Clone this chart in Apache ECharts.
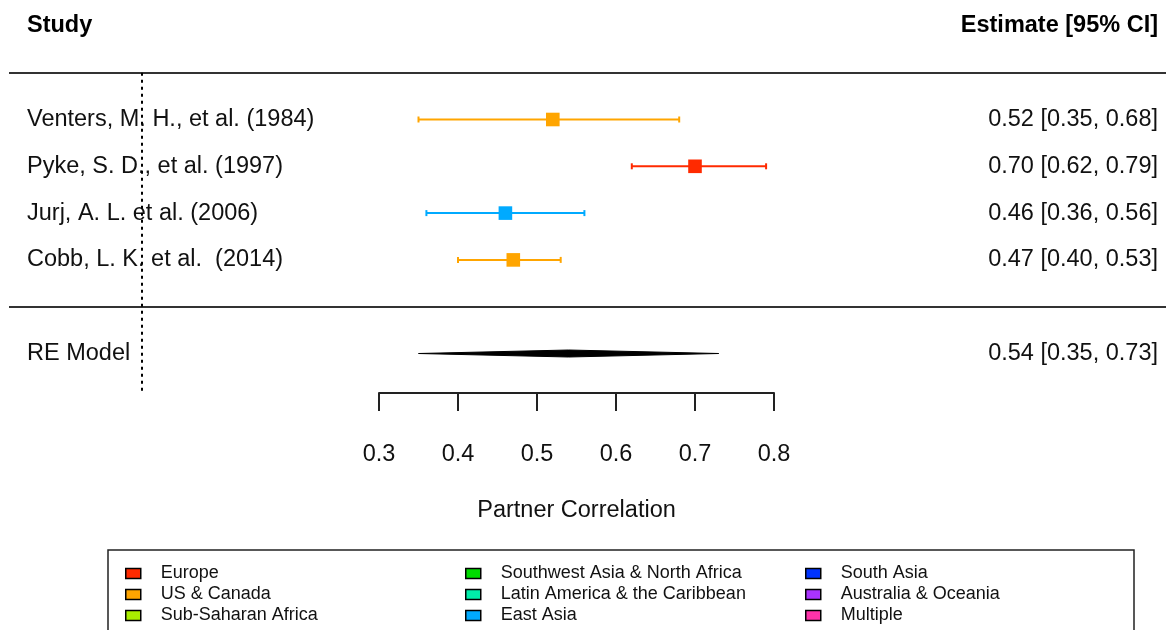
<!DOCTYPE html>
<html>
<head>
<meta charset="utf-8">
<title>Partner Correlation forest plot</title>
<script src="https://cdn.jsdelivr.net/npm/echarts@6/dist/echarts.min.js"></script>
<style>
  html, body { margin: 0; padding: 0; background: #fff; }
  #chart { width: 1166px; height: 630px; }
</style>
</head>
<body>
<div id="chart"></div>
<script>
// Individual studies (top to bottom)
const studies = [
  'Venters, M. H., et al. (1984)',
  'Pyke, S. D., et al. (1997)',
  'Jurj, A. L. et al. (2006)',
  'Cobb, L. K. et al.  (2014)'
];
const estimates = [0.52, 0.70, 0.46, 0.47];
const lowerCI = [0.35, 0.62, 0.36, 0.40];
const upperCI = [0.68, 0.79, 0.56, 0.53];
const studyRegions = ['US & Canada', 'Europe', 'East Asia', 'US & Canada'];

// Random-effects summary
const modelLabel = 'RE Model';
const modelEstimate = [0.54];
const modelLower = [0.35];
const modelUpper = [0.73];

// Region palette (legend order: filled column by column)
const regions = [
  'Europe', 'US & Canada', 'Sub-Saharan Africa',
  'Southwest Asia & North Africa', 'Latin America & the Caribbean', 'East Asia',
  'South Asia', 'Australia & Oceania', 'Multiple'
];
const regionColors = [
  '#FF2A00', '#FFA500', '#AAEE00',
  '#00DD00', '#00EEAA', '#00AAFF',
  '#0033FF', '#AA33FF', '#FF33AA'
];

// Bottom axis ticks
const axisTicks = [0.3, 0.4, 0.5, 0.6, 0.7, 0.8];
const axisTitle = 'Partner Correlation';
const headerLeft = 'Study';
const headerRight = 'Estimate [95% CI]';

// Row layout: studies occupy rows n+2 .. 3, separator at 2, model at 1
const n = studies.length;
const rowOf = i => n + 2 - i;
const modelRow = 1;
const headerRow = n + 4;
const topRuleRow = n + 3;
const midRuleRow = 2;

const fmt = v => v.toFixed(2);
const leftLabels = {};
const rightLabels = {};
leftLabels[headerRow] = '{h|' + headerLeft + '}';
rightLabels[headerRow] = '{h|' + headerRight + '}';
studies.forEach((s, i) => {
  leftLabels[rowOf(i)] = s;
  rightLabels[rowOf(i)] = fmt(estimates[i]) + ' [' + fmt(lowerCI[i]) + ', ' + fmt(upperCI[i]) + ']';
});
leftLabels[modelRow] = modelLabel;
rightLabels[modelRow] = fmt(modelEstimate[0]) + ' [' + fmt(modelLower[0]) + ', ' + fmt(modelUpper[0]) + ']';

// Pixel geometry of the plotting frame
const W = 1166;
const zeroPx = 142;       // where x = 0 sits
const unitPx = 790;       // pixels per 1.0 on the x scale
const gridLeft = 9;
const rowPx = 46.8;
const rowOnePx = 353.5;
const gridTop = rowOnePx - (headerRow - 1) * rowPx;
const gridHeight = headerRow * rowPx;

const textFont = "'Liberation Sans', Arial, Helvetica, sans-serif";
const fs = 23.5;

function renderCI(params, api) {
  const y = api.value(3);
  const pLo = api.coord([api.value(0), y]);
  const pEst = api.coord([api.value(1), y]);
  const pHi = api.coord([api.value(2), y]);
  const color = api.visual('color');
  const cap = 3;
  const half = 6.8;
  const stroke = { stroke: color, lineWidth: 2 };
  return {
    type: 'group',
    children: [
      { type: 'line', shape: { x1: pLo[0], y1: pLo[1], x2: pHi[0], y2: pHi[1] }, style: stroke },
      { type: 'line', shape: { x1: pLo[0], y1: pLo[1] - cap, x2: pLo[0], y2: pLo[1] + cap }, style: stroke },
      { type: 'line', shape: { x1: pHi[0], y1: pHi[1] - cap, x2: pHi[0], y2: pHi[1] + cap }, style: stroke },
      { type: 'rect', shape: { x: pEst[0] - half, y: pEst[1] - half, width: half * 2, height: half * 2 }, style: { fill: color } }
    ]
  };
}

function renderDiamond(params, api) {
  const y = api.value(3);
  const pLo = api.coord([api.value(0), y]);
  const pEst = api.coord([api.value(1), y]);
  const pHi = api.coord([api.value(2), y]);
  const h = 3.5;
  return {
    type: 'polygon',
    shape: { points: [[pLo[0], pLo[1]], [pEst[0], pEst[1] - h], [pHi[0], pHi[1]], [pEst[0], pEst[1] + h]] },
    style: { fill: '#000', stroke: '#000', lineWidth: 1 }
  };
}

const regionSeries = regions.map((r, k) => ({
  name: r,
  type: 'custom',
  xAxisIndex: 0,
  yAxisIndex: 0,
  itemStyle: { color: regionColors[k] },
  renderItem: renderCI,
  encode: { x: [0, 1, 2], y: 3 },
  data: studies
    .map((s, i) => ({ i, r: studyRegions[i] }))
    .filter(d => d.r === r)
    .map(d => [lowerCI[d.i], estimates[d.i], upperCI[d.i], rowOf(d.i)]),
  silent: true,
  animation: false
}));

const modelSeries = {
  name: modelLabel,
  type: 'custom',
  xAxisIndex: 0,
  yAxisIndex: 0,
  renderItem: renderDiamond,
  encode: { x: [0, 1, 2], y: 3 },
  data: [[modelLower[0], modelEstimate[0], modelUpper[0], modelRow]],
  silent: true,
  animation: false,
  markLine: {
    silent: true,
    symbol: 'none',
    animation: false,
    label: { show: false },
    data: [
      { yAxis: topRuleRow, lineStyle: { color: '#333', width: 2, type: 'solid' } },
      { yAxis: midRuleRow, lineStyle: { color: '#333', width: 2, type: 'solid' } },
      [
        { coord: [0, topRuleRow], lineStyle: { color: '#000', width: 2, type: [3, 4] } },
        { coord: [0, 0.15] }
      ]
    ]
  }
};

const legendCommon = {
  orient: 'vertical',
  top: 563,
  padding: 0,
  itemWidth: 15,
  itemHeight: 10,
  itemGap: 0,
  icon: 'rect',
  selectedMode: false,
  itemStyle: { borderColor: '#000', borderWidth: 1.5 },
  textStyle: { fontFamily: textFont, fontSize: 18, color: '#111', lineHeight: 21, padding: [0, 0, 0, 15] }
};

const option = {
  backgroundColor: '#fff',
  animation: false,
  textStyle: { fontFamily: textFont },
  grid: [
    {
      left: gridLeft, top: gridTop, width: W - gridLeft, height: gridHeight,
      containLabel: false, outerBoundsMode: 'none'
    },
    {
      left: zeroPx + axisTicks[0] * unitPx,
      top: 392,
      width: (axisTicks[axisTicks.length - 1] - axisTicks[0]) * unitPx,
      height: 1,
      containLabel: false, outerBoundsMode: 'none'
    }
  ],
  xAxis: [
    {
      gridIndex: 0, type: 'value', show: false,
      min: (gridLeft - zeroPx) / unitPx,
      max: (W - zeroPx) / unitPx
    },
    {
      gridIndex: 1, type: 'value',
      min: axisTicks[0], max: axisTicks[axisTicks.length - 1], interval: 0.1,
      position: 'bottom',
      axisLine: { show: true, lineStyle: { color: '#222', width: 2 } },
      axisTick: { show: true, length: 18, lineStyle: { color: '#222', width: 2 } },
      axisLabel: {
        show: true, margin: 50, fontSize: fs, color: '#111', fontFamily: textFont,
        formatter: v => v.toFixed(1)
      },
      splitLine: { show: false },
      name: axisTitle,
      nameLocation: 'middle',
      nameGap: 106,
      nameTextStyle: { fontSize: fs, color: '#111', fontFamily: textFont }
    }
  ],
  yAxis: [
    {
      gridIndex: 0, type: 'value', position: 'left',
      min: 0, max: headerRow, interval: 1,
      axisLine: { show: false }, axisTick: { show: false }, splitLine: { show: false },
      axisLabel: {
        inside: true, margin: 18, align: 'left', showMinLabel: true, showMaxLabel: true,
        fontSize: fs, color: '#111', fontFamily: textFont,
        formatter: v => leftLabels[v] || '',
        rich: { h: { fontSize: fs, fontWeight: 'bold', color: '#000', fontFamily: textFont } }
      }
    },
    {
      gridIndex: 0, type: 'value', position: 'right',
      min: 0, max: headerRow, interval: 1,
      axisLine: { show: false }, axisTick: { show: false }, splitLine: { show: false },
      axisLabel: {
        inside: true, margin: 8, align: 'right', showMinLabel: true, showMaxLabel: true,
        fontSize: fs, color: '#111', fontFamily: textFont,
        formatter: v => rightLabels[v] || '',
        rich: { h: { fontSize: fs, fontWeight: 'bold', color: '#000', fontFamily: textFont } }
      }
    },
    { gridIndex: 1, type: 'value', show: false, min: 0, max: 1 }
  ],
  legend: [
    Object.assign({ left: 125, data: regions.slice(0, 3) }, legendCommon),
    Object.assign({ left: 465, data: regions.slice(3, 6) }, legendCommon),
    Object.assign({ left: 805, data: regions.slice(6, 9) }, legendCommon)
  ],
  graphic: [
    {
      type: 'rect', silent: true, z: 0,
      shape: { x: 108, y: 550, width: 1026, height: 100 },
      style: { fill: 'none', stroke: '#222', lineWidth: 1.5 }
    }
  ],
  series: regionSeries.concat([modelSeries])
};

const chart = echarts.init(document.getElementById('chart'), null, { renderer: 'canvas' });
chart.setOption(option);
</script>
</body>
</html>
